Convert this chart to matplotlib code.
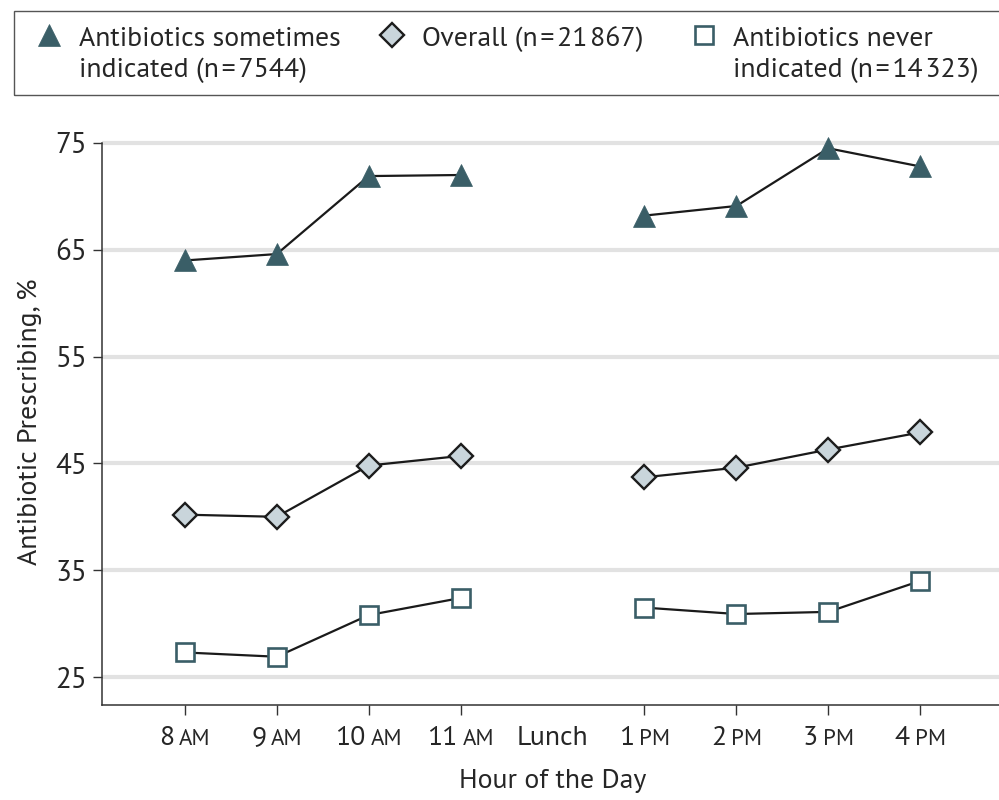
import matplotlib
matplotlib.use("Agg")
import numpy as np
import matplotlib.pyplot as plt
from matplotlib.lines import Line2D
from matplotlib.patches import Rectangle
from matplotlib.offsetbox import TextArea, HPacker, AnnotationBbox

# ---- data ----
hour_nums = ["8", "9", "10", "11", "Lunch", "1", "2", "3", "4"]
hour_suffix = ["AM", "AM", "AM", "AM", "", "PM", "PM", "PM", "PM"]
sometimes = [64.0, 64.6, 71.9, 72.0, None, 68.2, 69.1, 74.5, 72.8]
overall = [40.2, 40.0, 44.8, 45.7, None, 43.7, 44.6, 46.3, 47.9]
never = [27.3, 26.9, 30.8, 32.4, None, 31.5, 30.9, 31.1, 34.0]
series_labels = [["Antibiotics sometimes", "indicated (n\u200a=\u200a7544)"],
                 ["Overall (n\u200a=\u200a21\u200a867)"],
                 ["Antibiotics never", "indicated (n\u200a=\u200a14\u200a323)"]]
yticks = [25, 35, 45, 55, 65, 75]

FONT = ["PT Sans", "DejaVu Sans"]
TEAL = "#3a5e67"
DARK = "#262626"
FS = 20

def arr(v):
    return np.array([np.nan if x is None else x for x in v], dtype=float)

fig = plt.figure(figsize=(9.99, 8), dpi=100)
ax = fig.add_axes([0.102, 0.119, 0.898, 0.729])
x = np.arange(len(hour_nums))

styles = [
    dict(marker="^", ms=16, mfc=TEAL, mec=TEAL, mew=0.5),
    dict(marker="D", ms=12, mfc="#c9d5db", mec="#1c1c1c", mew=1.7),
    dict(marker="s", ms=13, mfc="white", mec=TEAL, mew=1.9),
]
for vals, st in zip([sometimes, overall, never], styles):
    ax.plot(x, arr(vals), color="#1a1a1a", lw=1.6, zorder=3, **st)

ax.set_xlim(-0.903, 8.857)
ax.set_ylim(22.4, 77.0)
ax.set_yticks(yticks)
ax.set_yticklabels([str(t) for t in yticks], family=FONT, fontsize=21, color=DARK)
ax.grid(axis="y", color="#e2e2e2", lw=3, zorder=0)
ax.set_axisbelow(True)
for s in ["top", "right"]:
    ax.spines[s].set_visible(False)
for s in ["left", "bottom"]:
    ax.spines[s].set_color("#333333")
    ax.spines[s].set_linewidth(1.1)
ax.spines["left"].set_bounds(22.4, 75)
ax.tick_params(axis="y", length=6.5, width=1.0, color="#333333", pad=4)
ax.tick_params(axis="x", length=7.5, width=1.0, color="#333333", labelbottom=False)
ax.set_xticks(x)
for i, t in enumerate(ax.xaxis.get_major_ticks()):
    if hour_suffix[i] == "":
        t.tick1line.set_visible(False)

# x tick labels with small-caps style suffix
for i, (n, s) in enumerate(zip(hour_nums, hour_suffix)):
    parts = [TextArea(n, textprops=dict(family=FONT, fontsize=FS, color=DARK))]
    if s:
        parts.append(TextArea(s, textprops=dict(family=FONT, fontsize=16.5, color=DARK)))
    box = HPacker(children=parts, align="baseline", pad=0, sep=3.5)
    ab = AnnotationBbox(box, (x[i], 0), xycoords=ax.get_xaxis_transform(),
                        xybox=(0, -15), boxcoords="offset points",
                        box_alignment=(0.5, 1), frameon=False, pad=0)
    ax.add_artist(ab)

ax.set_ylabel("Antibiotic Prescribing, %", family=FONT, fontsize=FS, color=DARK)
ax.yaxis.set_label_coords(-0.067, 0.485)
fig.text(0.553, 1 - 781 / 800, "Hour of the Day", family=FONT, fontsize=FS,
         color=DARK, ha="center", va="center")

# legend box
fig.add_artist(Rectangle((14 / 999, 1 - 95 / 800), 1.0, 84 / 800, transform=fig.transFigure,
                         fill=False, ec="#555555", lw=1.0))
mx = [49, 392, 704]
tx = [79, 422, 733]
for k, (st, lab) in enumerate(zip(styles, series_labels)):
    fig.add_artist(Line2D([mx[k] / 999], [1 - 35 / 800], transform=fig.transFigure,
                          ls="none", **st))
    for j, line in enumerate(lab):
        fig.text(tx[k] / 999, 1 - (46 + 31 * j) / 800, line, family=FONT, fontsize=FS,
                 color=DARK, ha="left", va="baseline")

fig.savefig("out.png", dpi=100)
